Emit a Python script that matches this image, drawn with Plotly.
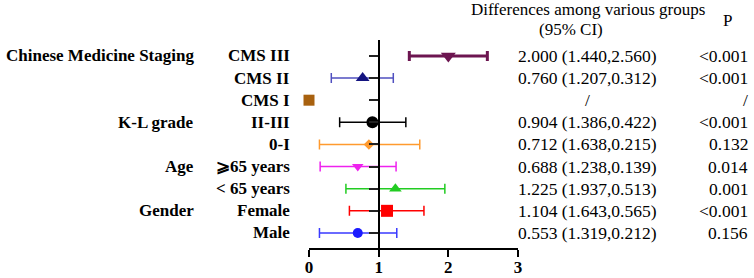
import plotly.graph_objects as go

# ---- data ----
categories = ["CMS III", "CMS II", "CMS I", "II-III", "0-I", "⩾65 years", "< 65 years", "Female", "Male"]
groups = {"CMS III": "Chinese Medicine Staging", "II-III": "K-L grade", "⩾65 years": "Age", "Female": "Gender"}
estimate = [2.00, 0.77, 0.00, 0.91, 0.86, 0.70, 1.24, 1.12, 0.70]
ci_low = [1.44, 0.32, None, 0.44, 0.15, 0.16, 0.53, 0.58, 0.15]
ci_high = [2.56, 1.21, None, 1.39, 1.59, 1.25, 1.95, 1.65, 1.26]
diff_text = ["2.000 (1.440,2.560)", "0.760 (1.207,0.312)", "/", "0.904 (1.386,0.422)",
             "0.712 (1.638,0.215)", "0.688 (1.238,0.139)", "1.225 (1.937,0.513)",
             "1.104 (1.643,0.565)", "0.553 (1.319,0.212)"]
p_text = ["<0.001", "<0.001", "/", "<0.001", "0.132", "0.014", "0.001", "<0.001", "0.156"]
x_ticks = [0, 1, 2, 3]

# ---- styles ----
marker_colors = ["#6c1550", "#141480", "#a8610f", "#000000", "#ff9a2e", "#ee22ee", "#22cc22", "#ff0000", "#1a1aff"]
line_colors = ["#6c1550", "#5050c0", "#a8610f", "#000000", "#ff9a2e", "#ee22ee", "#22cc22", "#ff0000", "#3a3aff"]
symbols = ["triangle-down", "triangle-up", "square", "circle", "diamond", "triangle-down", "triangle-up", "square", "circle"]
sizes = [13, 12, 11, 12, 8, 10, 11, 12, 10]
thick = [3, 1.5, 1.5, 1.5, 1.5, 1.5, 1.5, 1.5, 1.5]

SERIF = "Liberation Serif, Times New Roman, serif"
n = len(categories)
ypos = [n - 1 - i for i in range(n)]

fig = go.Figure()
for i, cat in enumerate(categories):
    err = None
    if ci_low[i] is not None:
        err = dict(type="data", symmetric=False,
                   array=[ci_high[i] - estimate[i]], arrayminus=[estimate[i] - ci_low[i]],
                   color=line_colors[i], thickness=thick[i], width=5)
    fig.add_trace(go.Scatter(
        x=[estimate[i]], y=[ypos[i]], mode="markers",
        marker=dict(symbol=symbols[i], size=sizes[i], color=marker_colors[i], line=dict(width=0)),
        error_x=err, showlegend=False, cliponaxis=False, hoverinfo="skip"))

ann = []
for i, cat in enumerate(categories):
    ann.append(dict(x=0, xref="paper", y=ypos[i], yref="y", text="<b>%s</b>" % cat,
                    xanchor="right", yanchor="middle", xshift=-17, showarrow=False,
                    font=dict(family=SERIF, size=17, color="black")))
    if cat in groups:
        ann.append(dict(x=0, xref="paper", y=ypos[i], yref="y", text="<b>%s</b>" % groups[cat],
                        xanchor="right", yanchor="middle", xshift=-113, showarrow=False,
                        font=dict(family=SERIF, size=17, color="black")))
    ann.append(dict(x=1, xref="paper", y=ypos[i], yref="y", text=diff_text[i],
                    xanchor="center", yanchor="middle", xshift=69, showarrow=False,
                    font=dict(family=SERIF, size=17.5, color="black")))
    ann.append(dict(x=1, xref="paper", y=ypos[i], yref="y", text=p_text[i],
                    xanchor="right", yanchor="middle", xshift=232, showarrow=False,
                    font=dict(family=SERIF, size=17.5, color="black")))

ann.append(dict(x=1, xref="paper", y=1, yref="paper", text="Differences among various groups",
                xanchor="center", yanchor="middle", xshift=70, yshift=31, showarrow=False,
                font=dict(family=SERIF, size=17, color="black")))
ann.append(dict(x=1, xref="paper", y=1, yref="paper", text="(95% CI)",
                xanchor="center", yanchor="middle", xshift=53, yshift=11, showarrow=False,
                font=dict(family=SERIF, size=17, color="black")))
ann.append(dict(x=1, xref="paper", y=1, yref="paper", text="P",
                xanchor="center", yanchor="middle", xshift=209, yshift=20, showarrow=False,
                font=dict(family=SERIF, size=17, color="black")))

fig.update_layout(
    width=754, height=278,
    margin=dict(l=309, r=236, t=40, b=30),
    paper_bgcolor="white", plot_bgcolor="white",
    annotations=ann,
    xaxis=dict(range=[0, 3], tickvals=x_ticks, ticktext=["<b>%d</b>" % t for t in x_ticks],
               showline=True, linecolor="black", linewidth=2,
               ticks="outside", ticklen=7, tickwidth=2, tickcolor="black",
               showgrid=False, zeroline=False, automargin=False, ticklabelstandoff=-4,
               tickfont=dict(family=SERIF, size=17, color="black")),
    yaxis=dict(range=[-0.68, 8.72], tickvals=ypos, showticklabels=False,
               anchor="free", position=1 / 3, automargin=False,
               showline=True, linecolor="black", linewidth=2,
               ticks="outside", ticklen=9, tickwidth=2, tickcolor="#222222",
               showgrid=False, zeroline=False),
)

fig.write_html("out.html", config={"displayModeBar": False},
               post_script="document.body.style.margin='0';document.body.style.overflow='hidden';")
